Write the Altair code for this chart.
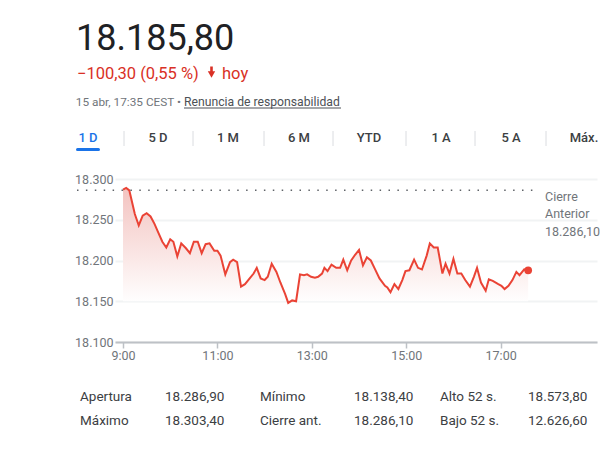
import altair as alt
import pandas as pd

# ---- data ----
times = ["09:00","09:04","09:08","09:15","09:20","09:25","09:30","09:35","09:40","09:45","09:50","09:55",
         "10:00","10:04","10:09","10:14","10:20","10:25","10:30","10:35","10:40","10:45","10:50","10:56",
         "11:00","11:04","11:10","11:16","11:20","11:25","11:30","11:35","11:41","11:46","11:50","11:55",
         "12:00","12:04","12:09","12:15","12:20","12:26","12:30","12:35","12:40","12:45","12:50","12:54","12:59",
         "13:04","13:08","13:13","13:16","13:20","13:25","13:31","13:36","13:40","13:45","13:50","13:55",
         "14:00","14:05","14:10","14:15","14:20","14:26","14:33","14:36","14:40","14:45","14:50","14:55","14:59",
         "15:04","15:10","15:15","15:20","15:26","15:30","15:35","15:40","15:46","15:50","15:55",
         "16:00","16:05","16:10","16:15","16:21","16:26","16:30","16:35","16:41","16:45","16:50","16:57",
         "17:01","17:05","17:10","17:15","17:20","17:24","17:30","17:35"]
values = [18287,18289,18286,18257,18243,18255,18258,18254,18245,18234,18223,18216,
          18226,18223,18205,18221,18215,18209,18223,18223,18209,18220,18221,18212,
          18212,18206,18183,18198,18201,18198,18168,18171,18178,18184,18191,18178,
          18176,18180,18196,18186,18173,18159,18148,18151,18150,18183,18182,18183,18180,
          18179,18180,18184,18191,18187,18195,18191,18191,18201,18188,18200,18207,
          18213,18194,18204,18200,18190,18178,18169,18167,18161,18171,18165,18176,18187,
          18188,18201,18191,18189,18206,18221,18216,18216,18184,18196,18184,
          18202,18184,18184,18176,18168,18180,18191,18173,18163,18177,18175,18171,
          18169,18165,18169,18176,18186,18182,18189,18188]
prev_close = 18286.1
y_ticks = [18100, 18150, 18200, 18250, 18300]
x_ticks = ["09:00", "11:00", "13:00", "15:00", "17:00"]

price = "18.185,80"
change = "\u2212100,30 (0,55 %)"
today = "hoy"
stamp = "15 abr, 17:35 CEST \u2022"
disclaimer = "Renuncia de responsabilidad"
tabs = ["1 D", "5 D", "1 M", "6 M", "YTD", "1 A", "5 A", "M\u00e1x."]
prev_label = ["Cierre", "Anterior", "18.286,10"]
stat_labels = [["Apertura", "M\u00ednimo", "Alto 52 s."], ["M\u00e1ximo", "Cierre ant.", "Bajo 52 s."]]
stat_values = [["18.286,90", "18.138,40", "18.573,80"], ["18.303,40", "18.286,10", "12.626,60"]]

assert len(times) == len(values)


def to_min(t):
    h, m = t.split(":")
    return int(h) * 60 + int(m) - 540


df = pd.DataFrame({"t": [to_min(t) for t in times], "v": values})
df_last = df.tail(1)

# ---- layout ----
OX, OY = 115, 179  # page position of plot origin
W, H = 482, 163
FONT = "Roboto"
RED = "#ea4335"
TXTRED = "#d93025"
GRAY = "#70757a"
DARK = "#3c4043"


def px(x):
    return x - OX


def py(y):
    return y - OY


xscale = alt.Scale(domain=[-10.2, 602.5], nice=False, zero=False)
yscale = alt.Scale(domain=[18100, 18300], nice=False, zero=False)

x_enc = alt.X("t:Q", scale=xscale,
              axis=alt.Axis(values=[to_min(t) for t in x_ticks], title=None, grid=False,
                            labelExpr="(datum.value/60 + 9) + ':00'",
                            domainColor="#bdc1c6", domainWidth=2, tickColor="#bdc1c6",
                            tickWidth=1.5, tickSize=6, labelColor=GRAY, labelFontSize=12.5,
                            labelFont=FONT, labelPadding=1))
y_enc = alt.Y("v:Q", scale=yscale,
              axis=alt.Axis(values=y_ticks, title=None, domain=False, ticks=False,
                            gridColor="#f1f3f4", gridWidth=2,
                            labelExpr="replace(format(datum.value, ','), ',', '.')",
                            labelColor=GRAY, labelFontSize=12.5, labelFont=FONT, labelPadding=2))

base = alt.Chart(df)

area = base.mark_area(
    color=alt.Gradient(gradient="linear", x1=0, y1=0, x2=0, y2=1,
                       stops=[alt.GradientStop(color="#f3c3c0", offset=0),
                              alt.GradientStop(color="#ffffff", offset=1)])
).encode(x=x_enc, y=y_enc, y2=alt.datum(18150))

line = base.mark_line(color=RED, strokeWidth=2).encode(x="t:Q", y="v:Q")

dot = alt.Chart(df_last).mark_circle(color=RED, size=60, opacity=1).encode(x="t:Q", y="v:Q")

prev_rule = alt.Chart(pd.DataFrame({"v": [prev_close]})).mark_rule(
    color="#5f6368", strokeWidth=1.5, strokeDash=[1.5, 7.4]
).encode(y="v:Q", x=alt.value(px(77)), x2=alt.value(px(536)))

layers = [area, line, dot, prev_rule]


def text_layer(txt, x, y, size, color, weight="normal", align="left", baseline="middle"):
    return alt.Chart(pd.DataFrame({"s": [txt]})).mark_text(
        font=FONT, fontSize=size, color=color, fontWeight=weight, align=align, baseline=baseline
    ).encode(text="s:N", x=alt.value(px(x)), y=alt.value(py(y)))


def rule_layer(x1, y1, x2, y2, color, width, cap="butt"):
    return alt.Chart(pd.DataFrame({"a": [0]})).mark_rule(
        color=color, strokeWidth=width, strokeCap=cap
    ).encode(x=alt.value(px(x1)), x2=alt.value(px(x2)), y=alt.value(py(y1)), y2=alt.value(py(y2)))


# header
layers.append(text_layer(price, 76, 49.5, 36, "#202124", baseline="alphabetic"))
layers.append(text_layer(change, 77, 79, 16.5, TXTRED, baseline="alphabetic"))
# bold down arrow icon: shaft + head
layers.append(rule_layer(211.5, 66.5, 211.5, 73, TXTRED, 2.6))
layers.append(alt.Chart(pd.DataFrame({"a": [0]})).mark_point(
    shape="triangle-down", filled=True, color=TXTRED, size=55, opacity=1
).encode(x=alt.value(px(211.5)), y=alt.value(py(74.5))))
layers.append(text_layer(today, 222, 79, 16.5, TXTRED, baseline="alphabetic"))
layers.append(text_layer(stamp, 181, 105.5, 11.8, GRAY, align="right", baseline="alphabetic"))
layers.append(text_layer(disclaimer, 184, 105.5, 12.2, "#4d5156", baseline="alphabetic"))
layers.append(rule_layer(184, 108, 341, 108, "#4d5156", 1))

# tabs
tab_centers = [88, 158, 228, 299, 369, 441, 511, 584]
sep_x = [124, 193, 264, 333, 406, 475, 546]
for i, (tb, cx) in enumerate(zip(tabs, tab_centers)):
    layers.append(text_layer(tb, cx, 137.5, 13, "#1a73e8" if i == 0 else DARK,
                             weight=500, align="center"))
for sx in sep_x:
    layers.append(rule_layer(sx, 131, sx, 146, "#dadce0", 1))
layers.append(rule_layer(77.5, 149.5, 98.5, 149.5, "#1a73e8", 3, cap="round"))

# previous close label
for i, s in enumerate(prev_label):
    layers.append(text_layer(s, 545, 197 + i * 17.3, 12.5, GRAY))

# stats table
col_lx = [80, 260, 440]
col_vx = [165, 354, 528]
row_y = [396.5, 421]
for r in range(2):
    for c in range(3):
        layers.append(text_layer(stat_labels[r][c], col_lx[c], row_y[r], 13.5, DARK))
        layers.append(text_layer(stat_values[r][c], col_vx[c], row_y[r], 13.5, DARK))

chart = alt.layer(*layers).properties(
    width=W, height=H,
    padding={"left": OX - 8, "top": OY - 8, "right": 4, "bottom": 100},
    autosize=alt.AutoSizeParams(type="none"),
    background="white",
).configure_view(stroke=None)

chart.save("out.html", embed_options={"renderer": "svg", "actions": False})
